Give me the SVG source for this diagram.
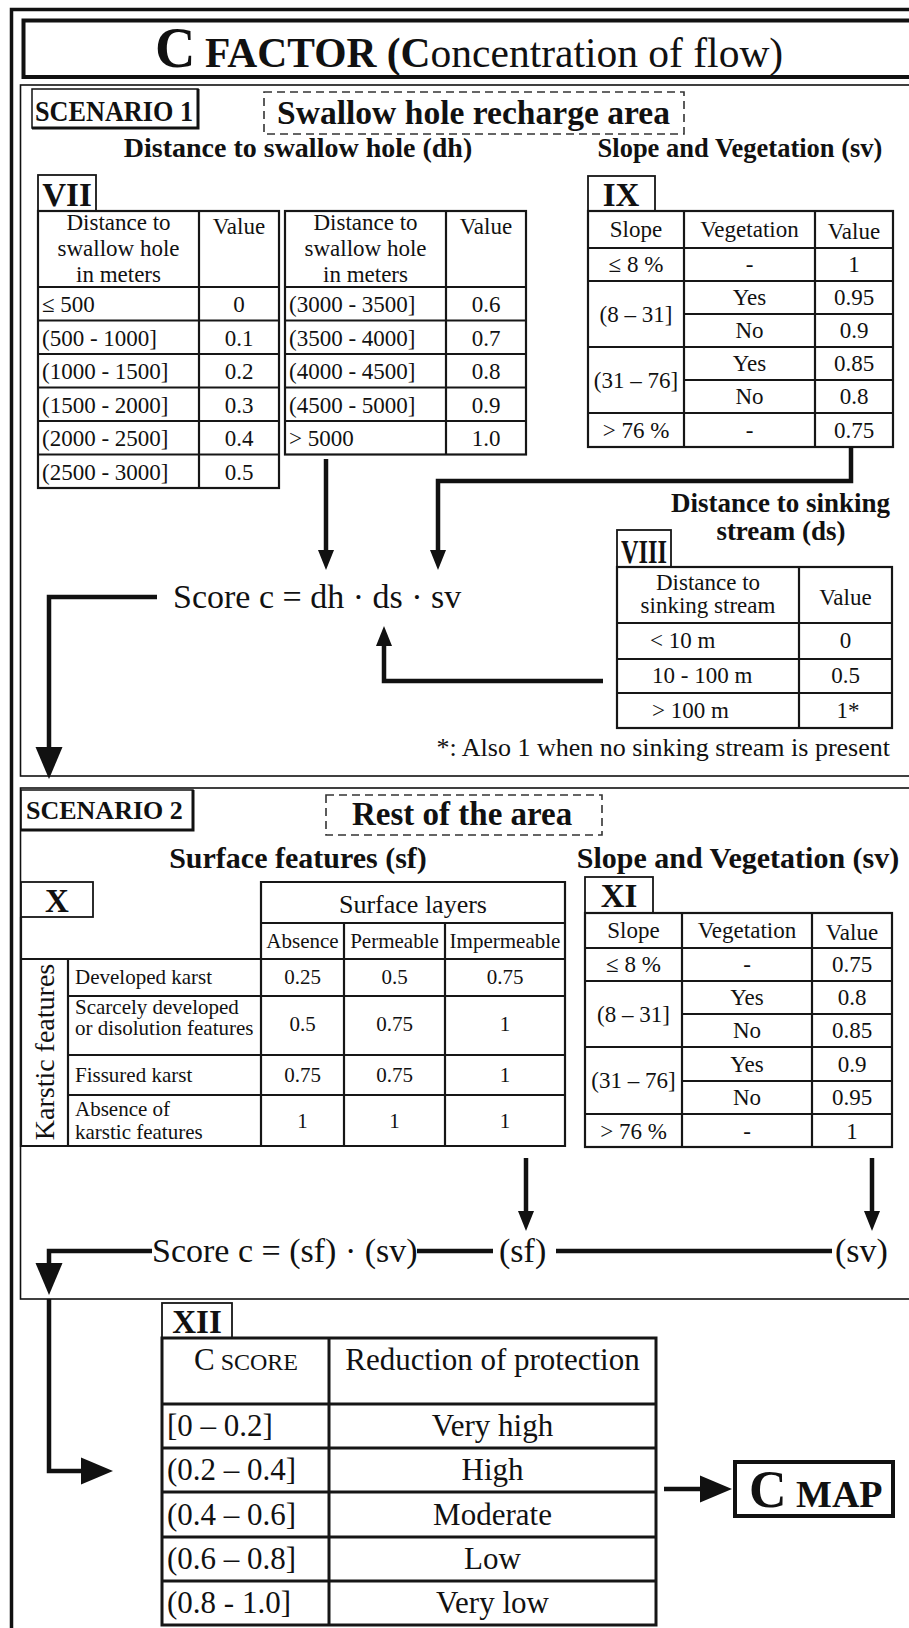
<svg xmlns="http://www.w3.org/2000/svg" width="909" height="1628" viewBox="0 0 909 1628">
<style>
text{font-family:"Liberation Serif","Times New Roman",serif;fill:#111}
.b{font-weight:bold}
.c{text-anchor:middle}
.e{text-anchor:end}
.t23{font-size:23px}
.t21{font-size:21px}
.t31{font-size:31px}
.lbl{font-weight:bold;font-size:33px;text-anchor:middle}
.ln{fill:none;stroke:#161616;stroke-width:2.2}
.ln3{fill:none;stroke:#161616;stroke-width:3}
.box{fill:none;stroke:#161616;stroke-width:1.8}
.frame{fill:none;stroke:#111}
.dash{fill:none;stroke:#333;stroke-width:1.6;stroke-dasharray:8 5}
.con{fill:none;stroke:#111;stroke-width:4.5}
</style>
<defs>
<marker id="ahs" markerUnits="userSpaceOnUse" viewBox="0 0 20 16" markerWidth="20" markerHeight="16" refX="0" refY="8" orient="auto" overflow="visible"><path d="M0,0 L20,8 L0,16 z" fill="#111"/></marker>
<marker id="ahb" markerUnits="userSpaceOnUse" viewBox="0 0 32 27" markerWidth="32" markerHeight="27" refX="0" refY="13.5" orient="auto" overflow="visible"><path d="M0,0 L32,13.5 L0,27 z" fill="#111"/></marker>
</defs>
<rect width="909" height="1628" fill="#fff"/>

<g id="frames">
<rect class="frame" x="11.5" y="9.5" width="930" height="1650" stroke-width="3.5"/>
<rect class="frame" x="23.5" y="20.5" width="920" height="56.5" stroke-width="4"/>
<rect class="frame" x="20.5" y="85" width="920" height="691" stroke-width="1.6"/>
<rect class="frame" x="20.5" y="788" width="920" height="511" stroke-width="1.6"/>
</g>

<g id="title">
<text class="b" x="155" y="67" font-size="56">C</text>
<text class="b" x="205" y="67" font-size="41.5">FACTOR (C<tspan font-weight="normal">oncentration of flow)</tspan></text>
</g>

<g id="scenario1-label">
<rect x="32" y="89" width="166" height="39" fill="none" stroke="#111" stroke-width="1.5"/>
<path d="M198,89 V128 H32" fill="none" stroke="#111" stroke-width="3"/>
<text class="b" x="35" y="121" font-size="29" textLength="158" lengthAdjust="spacingAndGlyphs">SCENARIO 1</text>
</g>

<g id="swallow-hole-area">
<rect class="dash" x="264" y="92" width="420" height="42"/>
<text class="b" x="277" y="124" font-size="33" textLength="393" lengthAdjust="spacingAndGlyphs">Swallow hole recharge area</text>
</g>

<g id="dh-heading">
<text class="b c" x="298" y="157" font-size="28">Distance to swallow hole (dh)</text>
</g>
<g id="sv1-heading">
<text class="b c" x="740" y="157" font-size="26.5">Slope and Vegetation (sv)</text>
</g>

<g id="table-VII">
<rect class="box" x="38" y="175" width="58" height="36"/>
<text class="lbl" x="67" y="206">VII</text>
<rect class="ln" x="38" y="211" width="241" height="277"/>
<path class="ln" d="M199,211 V488 M38,287 H279 M38,320.5 H279 M38,354 H279 M38,387.5 H279 M38,421 H279 M38,454.5 H279"/>
<text class="t23 c" x="118.5" y="230">Distance to</text>
<text class="t23 c" x="118.5" y="256">swallow hole</text>
<text class="t23 c" x="118.5" y="282">in meters</text>
<text class="t23 c" x="239" y="234">Value</text>
<text class="t23" x="42" y="312">≤ 500</text><text class="t23 c" x="239" y="312">0</text>
<text class="t23" x="42" y="345.5">(500 - 1000]</text><text class="t23 c" x="239" y="345.5">0.1</text>
<text class="t23" x="42" y="379">(1000 - 1500]</text><text class="t23 c" x="239" y="379">0.2</text>
<text class="t23" x="42" y="412.5">(1500 - 2000]</text><text class="t23 c" x="239" y="412.5">0.3</text>
<text class="t23" x="42" y="446">(2000 - 2500]</text><text class="t23 c" x="239" y="446">0.4</text>
<text class="t23" x="42" y="479.5">(2500 - 3000]</text><text class="t23 c" x="239" y="479.5">0.5</text>
<rect class="ln" x="285" y="211" width="241" height="243.5"/>
<path class="ln" d="M446,211 V454.5 M285,287 H526 M285,320.5 H526 M285,354 H526 M285,387.5 H526 M285,421 H526"/>
<text class="t23 c" x="365.5" y="230">Distance to</text>
<text class="t23 c" x="365.5" y="256">swallow hole</text>
<text class="t23 c" x="365.5" y="282">in meters</text>
<text class="t23 c" x="486" y="234">Value</text>
<text class="t23" x="289" y="312">(3000 - 3500]</text><text class="t23 c" x="486" y="312">0.6</text>
<text class="t23" x="289" y="345.5">(3500 - 4000]</text><text class="t23 c" x="486" y="345.5">0.7</text>
<text class="t23" x="289" y="379">(4000 - 4500]</text><text class="t23 c" x="486" y="379">0.8</text>
<text class="t23" x="289" y="412.5">(4500 - 5000]</text><text class="t23 c" x="486" y="412.5">0.9</text>
<text class="t23" x="289" y="446">&gt; 5000</text><text class="t23 c" x="486" y="446">1.0</text>
</g>

<g id="table-IX">
<rect class="box" x="588" y="176" width="67" height="35"/>
<text class="lbl" x="621" y="206">IX</text>
<rect class="ln" x="588" y="211" width="305" height="236"/>
<path class="ln" d="M684,211 V447 M815,211 V447 M588,248 H893 M588,281 H893 M684,314 H893 M588,347 H893 M684,380 H893 M588,413 H893"/>
<text class="t23 c" x="636" y="237">Slope</text>
<text class="t23 c" x="749.5" y="237">Vegetation</text>
<text class="t23 c" x="854" y="239">Value</text>
<text class="t23 c" x="636" y="272">≤ 8 %</text><text class="t23 c" x="749.5" y="272">-</text><text class="t23 c" x="854" y="272">1</text>
<text class="t23 c" x="636" y="322">(8 – 31]</text>
<text class="t23 c" x="749.5" y="305">Yes</text><text class="t23 c" x="854" y="305">0.95</text>
<text class="t23 c" x="749.5" y="338">No</text><text class="t23 c" x="854" y="338">0.9</text>
<text class="t23 c" x="636" y="388">(31 – 76]</text>
<text class="t23 c" x="749.5" y="371">Yes</text><text class="t23 c" x="854" y="371">0.85</text>
<text class="t23 c" x="749.5" y="404">No</text><text class="t23 c" x="854" y="404">0.8</text>
<text class="t23 c" x="636" y="438">&gt; 76 %</text><text class="t23 c" x="749.5" y="438">-</text><text class="t23 c" x="854" y="438">0.75</text>
</g>

<g id="ds-heading">
<text class="b e" x="890" y="512" font-size="27">Distance to sinking</text>
<text class="b c" x="781" y="540" font-size="27">stream (ds)</text>
</g>

<g id="table-VIII">
<rect class="box" x="617" y="530" width="54" height="37"/>
<text class="b" x="621" y="563" font-size="33" textLength="46" lengthAdjust="spacingAndGlyphs">VIII</text>
<rect class="ln" x="617" y="567" width="275" height="161"/>
<path class="ln" d="M799,567 V728 M617,623 H892 M617,659 H892 M617,693 H892"/>
<text class="t23 c" x="708" y="590">Distance to</text>
<text class="t23 c" x="708" y="613">sinking stream</text>
<text class="t23 c" x="845.5" y="605">Value</text>
<text class="t23" x="650" y="648">&lt; 10 m</text><text class="t23 c" x="845.5" y="648">0</text>
<text class="t23" x="652" y="683">10 - 100 m</text><text class="t23 c" x="845.5" y="683">0.5</text>
<text class="t23" x="652" y="718">&gt; 100 m</text><text class="t23 c" x="848" y="718">1*</text>
</g>

<g id="footnote">
<text class="e" x="890" y="756" font-size="26">*: Also 1 when no sinking stream is present</text>
</g>

<g id="score1">
<text x="173" y="608" font-size="34">Score c = dh · ds · sv</text>
</g>

<g id="scenario2-label">
<rect x="21" y="790" width="172" height="40" fill="none" stroke="#111" stroke-width="1.5"/>
<path d="M193,790 V830 H21" fill="none" stroke="#111" stroke-width="3"/>
<text class="b" x="26" y="819" font-size="26">SCENARIO 2</text>
</g>

<g id="rest-area">
<rect class="dash" x="326" y="795" width="276" height="40"/>
<text class="b" x="352" y="825" font-size="33">Rest of the area</text>
</g>

<g id="sf-heading">
<text class="b c" x="298" y="868" font-size="30">Surface features (sf)</text>
</g>
<g id="sv2-heading">
<text class="b c" x="738" y="868" font-size="30">Slope and Vegetation (sv)</text>
</g>

<g id="table-X">
<rect class="box" x="21" y="882" width="72" height="35"/>
<text class="lbl" x="57" y="912">X</text>
<path class="ln" d="M21,917 V1146 H565 V882 H261 V1146 M261,923 H565 M21,959 H565 M344,923 V1146 M445,923 V1146 M68,959 V1146 M68,996 H565 M68,1055 H565 M68,1095 H565"/>
<text class="c" x="413" y="913" font-size="26">Surface layers</text>
<text class="t21 c" x="302.5" y="948">Absence</text>
<text class="t21 c" x="394.5" y="948">Permeable</text>
<text class="t21 c" x="505" y="948">Impermeable</text>
<text class="c" font-size="28" transform="translate(54,1052) rotate(-90)">Karstic features</text>
<text class="t21" x="75" y="984">Developed karst</text>
<text class="t21" x="75" y="1014">Scarcely developed</text>
<text class="t21" x="75" y="1035">or disolution features</text>
<text class="t21" x="75" y="1082">Fissured karst</text>
<text class="t21" x="75" y="1116">Absence of</text>
<text class="t21" x="75" y="1139">karstic features</text>
<text class="t21 c" x="302.5" y="984">0.25</text><text class="t21 c" x="394.5" y="984">0.5</text><text class="t21 c" x="505" y="984">0.75</text>
<text class="t21 c" x="302.5" y="1031">0.5</text><text class="t21 c" x="394.5" y="1031">0.75</text><text class="t21 c" x="505" y="1031">1</text>
<text class="t21 c" x="302.5" y="1082">0.75</text><text class="t21 c" x="394.5" y="1082">0.75</text><text class="t21 c" x="505" y="1082">1</text>
<text class="t21 c" x="302.5" y="1128">1</text><text class="t21 c" x="394.5" y="1128">1</text><text class="t21 c" x="505" y="1128">1</text>
</g>

<g id="table-XI">
<rect class="box" x="585" y="877" width="68" height="36"/>
<text class="lbl" x="619" y="907">XI</text>
<rect class="ln" x="585" y="913" width="307" height="234"/>
<path class="ln" d="M682,913 V1147 M812,913 V1147 M585,948 H892 M585,981 H892 M682,1014 H892 M585,1047 H892 M682,1081 H892 M585,1114 H892"/>
<text class="t23 c" x="633.5" y="938">Slope</text>
<text class="t23 c" x="747" y="938">Vegetation</text>
<text class="t23 c" x="852" y="940">Value</text>
<text class="t23 c" x="633.5" y="972">≤ 8 %</text><text class="t23 c" x="747" y="972">-</text><text class="t23 c" x="852" y="972">0.75</text>
<text class="t23 c" x="633.5" y="1022">(8 – 31]</text>
<text class="t23 c" x="747" y="1005">Yes</text><text class="t23 c" x="852" y="1005">0.8</text>
<text class="t23 c" x="747" y="1038">No</text><text class="t23 c" x="852" y="1038">0.85</text>
<text class="t23 c" x="633.5" y="1088">(31 – 76]</text>
<text class="t23 c" x="747" y="1072">Yes</text><text class="t23 c" x="852" y="1072">0.9</text>
<text class="t23 c" x="747" y="1105">No</text><text class="t23 c" x="852" y="1105">0.95</text>
<text class="t23 c" x="633.5" y="1139">&gt; 76 %</text><text class="t23 c" x="747" y="1139">-</text><text class="t23 c" x="852" y="1139">1</text>
</g>

<g id="score2">
<text x="152" y="1262" font-size="34">Score c = (sf) · (sv)</text>
</g>
<g id="sf-term"><text x="499" y="1262" font-size="34">(sf)</text></g>
<g id="sv-term"><text x="835" y="1262" font-size="34">(sv)</text></g>

<g id="table-XII">
<rect class="box" x="162" y="1303" width="70" height="35"/>
<text class="lbl" x="197" y="1333">XII</text>
<rect class="ln3" x="162" y="1338" width="494" height="287"/>
<path class="ln3" d="M329,1338 V1625 M162,1404 H656 M162,1448 H656 M162,1492 H656 M162,1537 H656 M162,1581 H656"/>
<text class="t31 c" x="246" y="1370">C<tspan font-size="24"> SCORE</tspan></text>
<text class="t31 c" x="492.5" y="1370">Reduction of protection</text>
<text class="t31" x="167" y="1436">[0 – 0.2]</text><text class="t31 c" x="492.5" y="1436">Very high</text>
<text class="t31" x="167" y="1480">(0.2 – 0.4]</text><text class="t31 c" x="492.5" y="1480">High</text>
<text class="t31" x="167" y="1525">(0.4 – 0.6]</text><text class="t31 c" x="492.5" y="1525">Moderate</text>
<text class="t31" x="167" y="1569">(0.6 – 0.8]</text><text class="t31 c" x="492.5" y="1569">Low</text>
<text class="t31" x="167" y="1613">(0.8 - 1.0]</text><text class="t31 c" x="492.5" y="1613">Very low</text>
</g>

<g id="c-map">
<rect x="735" y="1462" width="158" height="54" fill="none" stroke="#111" stroke-width="4"/>
<text class="b" x="749" y="1507" font-size="52">C<tspan font-size="38"> MAP</tspan></text>
</g>

<g id="connectors">
<path class="con" d="M326,459 V550" marker-end="url(#ahs)"/>
<path class="con" d="M851,447 V481 H438 V550" marker-end="url(#ahs)"/>
<path class="con" d="M603,681 H384 V646" marker-end="url(#ahs)"/>
<path class="con" d="M157,597 H49 V747" marker-end="url(#ahb)"/>
<path class="con" d="M526,1158 V1211" marker-end="url(#ahs)"/>
<path class="con" d="M872,1158 V1211" marker-end="url(#ahs)"/>
<path class="con" d="M417,1251 H493 M556,1251 H832"/>
<path class="con" d="M152,1251 H49 V1263" marker-end="url(#ahb)"/>
<path class="con" d="M49,1299 V1471 H81" marker-end="url(#ahb)"/>
<path class="con" d="M664,1489 H700" marker-end="url(#ahb)"/>
</g>
</svg>
